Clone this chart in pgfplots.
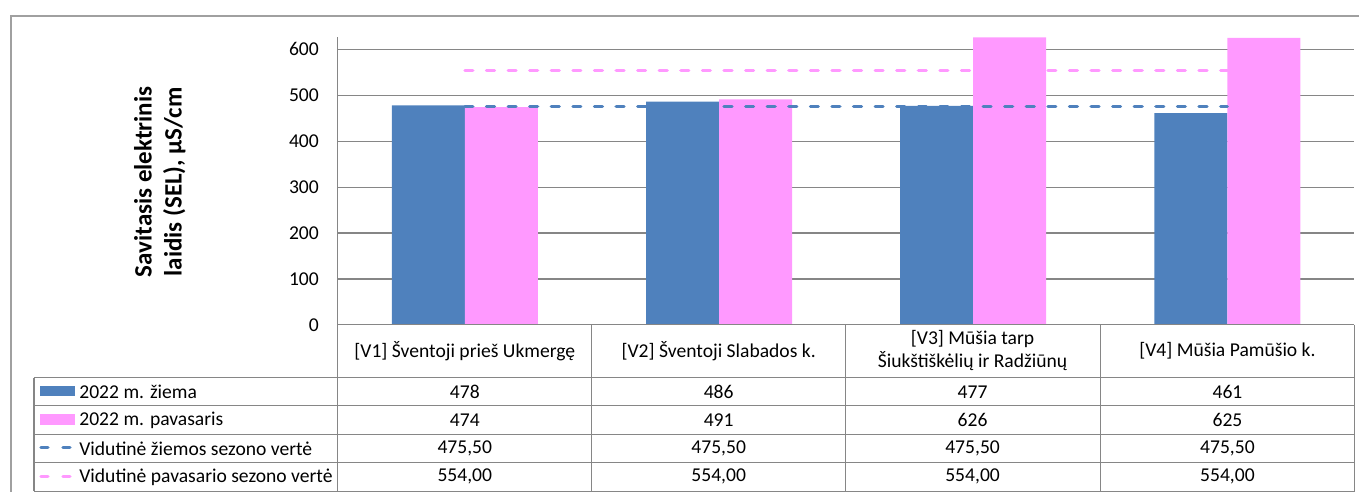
\documentclass[border=0pt]{standalone}
\usepackage{fontspec}
\setmainfont{Carlito}
\usepackage{pgfplots}
\pgfplotsset{compat=1.18}
\definecolor{cblue}{HTML}{4F81BD}
\definecolor{cpink}{HTML}{FF99FF}
\definecolor{cgrid}{HTML}{868686}
\definecolor{cframe}{HTML}{A0A0A0}
\tikzset{px/.style={x=0.5pt,y=-0.5pt,shift={(-338,-325)}}}
\newcommand{\tf}{\fontsize{9.8}{11.5}\selectfont}
\begin{document}
\begin{tikzpicture}
\begin{scope}[px]
\useasboundingbox (0,0) rectangle (1360,492);
\end{scope}
\begin{axis}[
  scale only axis, width=508.5pt, height=144pt,
  at={(0,0)}, anchor=south west,
  xmin=-0.5, xmax=3.5, ymin=0, ymax=627,
  axis lines*=left,
  axis line style={draw=cgrid, line width=0.6pt},
  xtick=\empty,
  ytick={0,100,...,600},
  ymajorgrids, grid style={draw=cgrid, line width=0.6pt},
  major tick length=0pt,
  /pgf/number format/assume math mode=true,
  yticklabel style={font=\tf, xshift=-6pt},
  clip=false,
]
\addplot[ybar, bar width=36.5pt, bar shift=-18.25pt, fill=cblue, draw=none]
  coordinates {(0,478) (1,486) (2,477) (3,461)};
\addplot[ybar, bar width=36.5pt, bar shift=18.25pt, fill=cpink, draw=none]
  coordinates {(0,474) (1,491) (2,626) (3,625)};
\addplot[sharp plot, no marks, draw=cpink, line width=1.6pt, line cap=round, dash pattern=on 4pt off 6.8pt]
  coordinates {(0,554) (1,554) (2,554) (3,554)};
\addplot[sharp plot, no marks, draw=cblue, line width=1.6pt, line cap=round, dash pattern=on 4pt off 6.8pt]
  coordinates {(0,475.5) (1,475.5) (2,475.5) (3,475.5)};
\end{axis}
\begin{scope}[px]
% outer frame
\draw[cframe, line width=0.6pt] (11,492) -- (11,16) -- (1360,16);
% table grid
\draw[cgrid, line width=0.6pt] (338,325) -- (338,492);
\foreach \xx in {592,846,1101,1355} \draw[cgrid, line width=0.6pt] (\xx,325) -- (\xx,492);
\draw[cgrid, line width=0.6pt] (338,325) -- (1355,325);
\foreach \yy in {377.7,406,434.3,462.7,491.5} \draw[cgrid, line width=0.6pt] (34,\yy) -- (1355,\yy);
\draw[cgrid, line width=0.6pt] (34,377.7) -- (34,491.5);
% header
\node[font=\tf, align=center] at (465,351) {[V1] Šventoji prieš Ukmergę};
\node[font=\tf, align=center] at (719,351) {[V2] Šventoji Slabados k.};
\node[font=\tf, align=center] at (973,351) {[V3] Mūšia tarp\\Šiukštiškėlių ir Radžiūnų};
\node[font=\tf, align=center] at (1228,351) {[V4] Mūšia Pamūšio k.};
% legend keys
\fill[cblue] (40,386) rectangle (75,396);
\fill[cpink] (40,414.5) rectangle (75,425.5);
\draw[cblue, line width=1.6pt, line cap=round] (41,448) -- (48,448) (63,448) -- (70,448);
\draw[cpink, line width=1.6pt, line cap=round] (41,476.5) -- (48,476.5) (63,476.5) -- (70,476.5);
\node[font=\tf, anchor=west, inner sep=0pt] at (79,391.9) {2022 m. žiema};
\node[font=\tf, anchor=west, inner sep=0pt] at (79,420.2) {2022 m. pavasaris};
\node[font=\tf, anchor=west, inner sep=0pt] at (79,448.5) {Vidutinė žiemos sezono vertė};
\node[font=\tf, anchor=west, inner sep=0pt] at (79,477) {Vidutinė pavasario sezono vertė};
% values
\foreach \xx/\a/\b in {465/478/474, 719/486/491, 973/477/626, 1228/461/625} {
  \node[font=\tf] at (\xx,391.9) {\a};
  \node[font=\tf] at (\xx,420.2) {\b};
  \node[font=\tf] at (\xx,448.5) {475,50};
  \node[font=\tf] at (\xx,477) {554,00};
}
% y label
\node[font=\fontsize{12.5}{15}\selectfont\bfseries, rotate=90, align=center] at (160,182) {Savitasis elektrinis\\laidis (SEL), µS/cm};
\end{scope}
\end{tikzpicture}
\end{document}
